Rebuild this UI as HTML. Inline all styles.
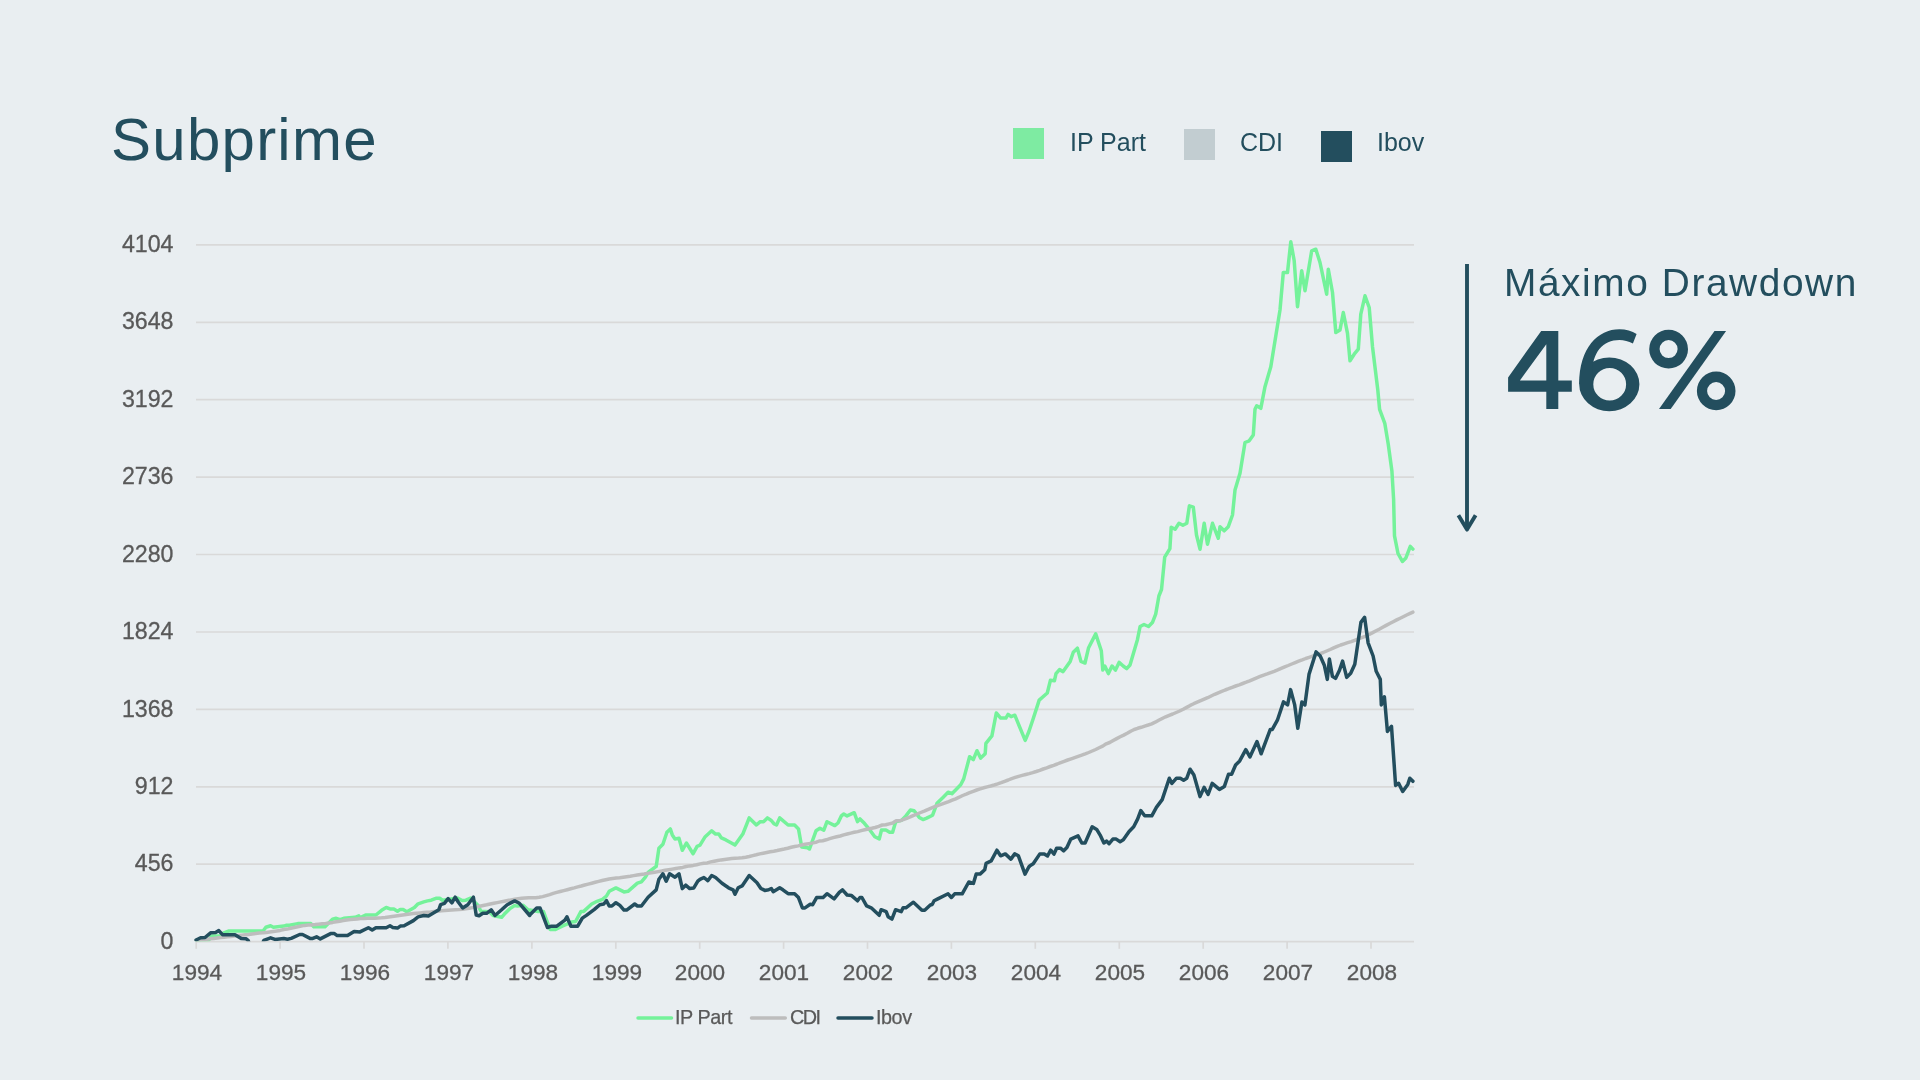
<!DOCTYPE html>
<html><head><meta charset="utf-8">
<style>
html,body{margin:0;padding:0;}
body{width:1920px;height:1080px;background:#E9EEF1;position:relative;overflow:hidden;font-family:"Liberation Sans",sans-serif;}
.title{position:absolute;left:110.5px;top:100px;font-size:60px;color:#234E5E;letter-spacing:1.25px;line-height:80px;white-space:nowrap;}
.lg{position:absolute;font-size:25px;color:#234E5E;line-height:30px;white-space:nowrap;}
.sq{position:absolute;width:31px;height:31px;}
.yl{position:absolute;left:60px;width:113.5px;text-align:right;font-size:23.2px;color:#595959;-webkit-text-stroke:0.3px #595959;line-height:28px;}
.xl{position:absolute;top:959px;-webkit-text-stroke:0.3px #595959;width:80px;text-align:center;font-size:22.6px;color:#595959;line-height:28px;}
.bl{position:absolute;top:1005px;-webkit-text-stroke:0.25px #595959;font-size:19.8px;letter-spacing:-0.45px;color:#595959;line-height:24px;white-space:nowrap;}
.dd{position:absolute;left:1504px;top:258.6px;font-size:38.8px;color:#234E5E;line-height:48px;letter-spacing:1.6px;white-space:nowrap;}
.pc{position:absolute;left:1506px;top:310px;font-size:115px;color:#234E5E;line-height:120px;-webkit-text-stroke:1.5px #234E5E;white-space:nowrap;}
svg{position:absolute;left:0;top:0;}
.title,.lg,.yl,.xl,.bl,.dd{-webkit-font-smoothing:antialiased;will-change:transform;}
</style></head><body>
<div class="title">Subprime</div>
<div class="sq" style="left:1013.2px;top:128px;width:31.3px;height:31.3px;background:#7EEBA2"></div>
<div class="lg" style="left:1070px;top:127px">IP Part</div>
<div class="sq" style="left:1184px;top:129px;background:#C2CDD1"></div>
<div class="lg" style="left:1240px;top:127px">CDI</div>
<div class="sq" style="left:1321px;top:131px;background:#234E5E"></div>
<div class="lg" style="left:1377px;top:127px">Ibov</div>
<div class="yl" style="top:926.7px">0</div><div class="yl" style="top:849.3px">456</div><div class="yl" style="top:771.9px">912</div><div class="yl" style="top:694.5px">1368</div><div class="yl" style="top:617.1px">1824</div><div class="yl" style="top:539.6px">2280</div><div class="yl" style="top:462.2px">2736</div><div class="yl" style="top:384.8px">3192</div><div class="yl" style="top:307.4px">3648</div><div class="yl" style="top:230.0px">4104</div>
<div class="xl" style="left:156.9px">1994</div><div class="xl" style="left:240.8px">1995</div><div class="xl" style="left:324.7px">1996</div><div class="xl" style="left:408.6px">1997</div><div class="xl" style="left:492.6px">1998</div><div class="xl" style="left:576.5px">1999</div><div class="xl" style="left:660.4px">2000</div><div class="xl" style="left:744.3px">2001</div><div class="xl" style="left:828.2px">2002</div><div class="xl" style="left:912.1px">2003</div><div class="xl" style="left:996.0px">2004</div><div class="xl" style="left:1080.0px">2005</div><div class="xl" style="left:1163.9px">2006</div><div class="xl" style="left:1247.8px">2007</div><div class="xl" style="left:1331.7px">2008</div>
<svg width="1920" height="1080" viewBox="0 0 1920 1080">
<defs><clipPath id="c"><rect x="150" y="150" width="1300" height="791.3"/></clipPath></defs>
<g stroke="#D9D9D9" stroke-width="1.7" fill="none"><line x1="196" x2="1414" y1="941.6" y2="941.6" /><line x1="196" x2="1414" y1="864.2" y2="864.2" /><line x1="196" x2="1414" y1="786.8" y2="786.8" /><line x1="196" x2="1414" y1="709.4" y2="709.4" /><line x1="196" x2="1414" y1="632.0" y2="632.0" /><line x1="196" x2="1414" y1="554.5" y2="554.5" /><line x1="196" x2="1414" y1="477.1" y2="477.1" /><line x1="196" x2="1414" y1="399.7" y2="399.7" /><line x1="196" x2="1414" y1="322.3" y2="322.3" /><line x1="196" x2="1414" y1="244.9" y2="244.9" /><line x1="196.2" x2="196.2" y1="941.6" y2="948.8" /><line x1="280.1" x2="280.1" y1="941.6" y2="948.8" /><line x1="364.0" x2="364.0" y1="941.6" y2="948.8" /><line x1="447.9" x2="447.9" y1="941.6" y2="948.8" /><line x1="531.9" x2="531.9" y1="941.6" y2="948.8" /><line x1="615.8" x2="615.8" y1="941.6" y2="948.8" /><line x1="699.7" x2="699.7" y1="941.6" y2="948.8" /><line x1="783.6" x2="783.6" y1="941.6" y2="948.8" /><line x1="867.5" x2="867.5" y1="941.6" y2="948.8" /><line x1="951.4" x2="951.4" y1="941.6" y2="948.8" /><line x1="1035.3" x2="1035.3" y1="941.6" y2="948.8" /><line x1="1119.3" x2="1119.3" y1="941.6" y2="948.8" /><line x1="1203.2" x2="1203.2" y1="941.6" y2="948.8" /><line x1="1287.1" x2="1287.1" y1="941.6" y2="948.8" /><line x1="1371.0" x2="1371.0" y1="941.6" y2="948.8" /></g>
<g fill="none" stroke-width="3.5" stroke-linejoin="round" stroke-linecap="round" clip-path="url(#c)">
<path stroke="#74F29A" d="M196.4 940.3 L208.8 940.1 L211.6 936.1 L220.0 936.1 L223.8 932.8 L228.4 931.1 L263.1 931.1 L265.9 927.2 L270.6 925.8 L273.4 927.2 L283.8 926.1 L286.6 925.3 L289.4 925.3 L297.8 923.6 L310.9 923.6 L313.8 926.7 L325.0 926.7 L332.5 919.2 L336.2 918.3 L340.0 919.7 L343.8 918.3 L355.0 917.3 L358.8 915.9 L360.0 917.8 L365.6 915.0 L375.9 915.0 L381.6 910.3 L386.2 907.5 L390.0 908.9 L393.8 908.9 L397.5 911.2 L400.3 909.4 L403.1 909.4 L406.9 911.7 L414.4 907.5 L418.1 903.8 L423.8 901.9 L427.5 900.9 L431.2 900.2 L435.9 898.3 L439.7 898.3 L442.5 900.2 L448.1 899.5 L457.5 898.1 L462.2 900.5 L465.9 900.2 L470.6 898.1 L478.1 905.6 L480.9 911.2 L489.4 911.7 L493.1 915.5 L501.6 917.3 L504.4 914.1 L510.0 908.4 L514.7 905.6 L517.5 906.1 L523.1 905.2 L529.7 911.2 L530.0 910.1 L538.1 911.4 L543.4 911.4 L550.1 929.5 L555.5 929.5 L562.2 926.2 L571.6 922.1 L575.6 921.5 L581.0 911.4 L583.7 911.4 L591.7 904.0 L597.1 901.3 L602.5 899.3 L606.5 896.0 L609.2 891.3 L615.9 887.9 L624.0 891.9 L628.0 891.3 L637.4 883.2 L641.4 881.9 L645.4 877.2 L648.1 872.5 L656.2 866.4 L658.9 848.3 L662.9 844.3 L666.9 832.2 L670.3 828.9 L672.3 834.9 L675.0 838.9 L679.0 838.3 L682.3 850.3 L686.4 843.0 L693.1 853.7 L697.1 846.3 L700.0 845.1 L705.2 836.7 L711.7 830.8 L715.6 834.1 L718.8 834.1 L721.4 837.9 L725.9 839.9 L730.5 842.5 L735.0 845.1 L742.8 834.1 L749.2 817.9 L756.4 825.0 L760.3 821.7 L763.5 821.7 L767.4 817.9 L771.3 820.5 L773.9 823.7 L776.5 825.0 L779.7 817.9 L788.1 825.0 L794.6 825.0 L798.5 828.9 L801.7 847.0 L807.6 847.7 L809.5 849.0 L816.0 830.8 L819.9 828.2 L823.8 830.2 L827.0 821.7 L834.8 825.6 L838.0 823.0 L841.3 815.9 L843.8 814.0 L847.1 815.9 L854.2 812.7 L857.5 821.7 L860.0 818.9 L864.4 823.3 L870.4 830.7 L874.8 836.7 L879.3 838.9 L881.5 830.0 L885.9 830.0 L889.6 832.2 L892.6 832.2 L895.6 821.9 L901.5 820.4 L905.9 815.9 L910.4 810.0 L914.1 810.7 L919.3 817.4 L923.0 819.6 L926.7 818.1 L932.6 815.2 L937.0 803.3 L943.0 797.4 L948.1 792.2 L951.9 793.7 L960.7 784.8 L963.7 778.9 L969.6 756.7 L973.3 759.6 L977.0 750.7 L980.7 758.1 L985.2 753.7 L985.9 743.3 L991.9 735.9 L996.3 713.0 L1000.7 718.1 L1005.9 718.1 L1008.1 714.4 L1011.1 716.7 L1014.8 715.2 L1025.2 740.4 L1028.9 731.5 L1033.1 719.0 L1039.2 700.1 L1047.3 693.0 L1050.4 680.3 L1054.4 680.8 L1056.0 673.6 L1059.5 669.6 L1063.1 671.6 L1070.2 661.4 L1073.3 652.3 L1077.4 648.2 L1080.9 661.4 L1085.0 663.0 L1088.6 647.7 L1095.7 633.9 L1101.3 650.7 L1102.8 670.1 L1104.8 666.0 L1108.4 673.6 L1112.0 666.0 L1115.5 670.1 L1119.1 662.4 L1123.2 666.0 L1126.7 668.6 L1130.0 665.0 L1137.5 639.4 L1140.1 626.5 L1144.0 624.5 L1148.5 626.5 L1152.4 622.6 L1155.7 614.1 L1158.9 596.0 L1161.5 589.5 L1164.7 557.1 L1169.9 548.6 L1171.2 527.2 L1175.1 529.2 L1179.0 523.3 L1182.9 525.3 L1186.8 523.3 L1189.4 505.8 L1193.3 507.1 L1196.5 535.0 L1200.0 549.2 L1204.2 523.3 L1207.5 544.2 L1212.5 523.3 L1218.3 538.3 L1220.0 526.7 L1224.2 530.8 L1228.3 526.7 L1232.5 515.0 L1235.0 490.0 L1240.0 473.3 L1245.0 442.5 L1249.2 440.8 L1253.3 435.0 L1255.0 409.2 L1256.7 405.8 L1260.8 408.3 L1265.0 386.7 L1270.8 366.7 L1280.0 310.0 L1283.3 272.5 L1287.5 272.5 L1290.8 241.7 L1294.2 260.8 L1297.5 306.7 L1301.7 270.8 L1305.0 290.8 L1311.7 250.8 L1315.8 249.2 L1320.0 262.5 L1326.7 294.2 L1328.3 269.2 L1332.5 292.5 L1335.8 332.5 L1340.0 330.0 L1343.3 312.5 L1347.5 333.3 L1350.0 360.8 L1354.2 354.2 L1358.3 349.2 L1360.8 314.2 L1365.0 295.8 L1369.2 307.5 L1372.5 346.7 L1377.8 390.0 L1379.6 409.3 L1384.8 423.4 L1388.3 444.5 L1391.9 470.9 L1393.6 499.0 L1394.5 535.9 L1398.0 553.5 L1402.4 561.4 L1405.9 557.9 L1410.3 546.4 L1412.9 549.1"/>
<path stroke="#BDBDBD" d="M196.2 940.5 L199.7 940.0 L203.2 939.6 L206.7 939.2 L210.2 938.8 L213.7 938.4 L217.2 938.0 L220.7 937.6 L224.2 937.2 L227.7 936.8 L231.2 936.4 L234.7 936.0 L238.2 935.6 L241.7 935.2 L245.2 934.8 L248.7 934.4 L252.2 933.9 L255.7 933.4 L259.2 933.0 L262.7 932.8 L266.2 932.4 L269.7 931.9 L273.2 931.4 L276.7 930.9 L280.2 930.4 L283.7 929.5 L287.2 929.1 L290.7 928.3 L294.2 927.5 L297.7 926.7 L301.2 926.0 L304.7 925.4 L308.2 925.1 L311.7 924.9 L315.2 924.6 L318.7 924.2 L322.2 923.8 L325.7 923.4 L329.2 922.9 L332.7 922.4 L336.2 921.8 L339.7 921.2 L343.2 920.6 L346.7 920.1 L350.2 919.6 L353.7 919.2 L357.2 918.9 L360.7 918.6 L364.2 918.4 L367.7 918.3 L371.2 918.2 L374.7 918.2 L378.2 918.0 L381.7 917.8 L385.2 917.4 L388.7 916.9 L392.2 916.4 L395.7 915.9 L399.2 915.4 L402.7 914.9 L406.2 914.4 L409.7 914.0 L413.2 913.6 L416.7 913.2 L420.2 912.9 L423.7 912.6 L427.2 912.3 L430.7 912.0 L434.2 911.6 L437.7 911.2 L441.2 910.8 L444.7 910.5 L448.2 910.2 L451.7 910.0 L455.2 909.8 L458.7 909.6 L462.2 909.3 L465.7 908.8 L469.2 908.3 L472.7 907.6 L476.2 906.9 L479.7 906.2 L483.2 905.5 L486.7 904.8 L490.2 904.0 L493.7 903.3 L497.2 902.6 L500.7 901.9 L504.2 901.2 L507.7 900.5 L511.2 899.9 L514.7 899.3 L518.2 898.8 L521.7 898.3 L525.2 898.0 L528.7 897.8 L532.2 897.8 L535.7 897.7 L539.2 897.3 L542.7 896.6 L546.2 895.6 L549.7 894.6 L553.2 893.4 L556.7 892.4 L560.2 891.5 L563.7 890.6 L567.2 889.7 L570.7 888.8 L574.2 887.9 L577.7 886.9 L581.2 886.0 L584.7 885.0 L588.2 884.1 L591.7 883.2 L595.2 882.3 L598.7 881.4 L602.2 880.5 L605.7 879.7 L609.2 879.0 L612.7 878.5 L616.2 878.1 L619.7 877.7 L623.2 877.2 L626.7 876.7 L630.2 876.2 L633.7 875.6 L637.2 875.0 L640.7 874.5 L644.2 874.0 L647.7 873.4 L651.2 872.8 L654.7 872.2 L658.2 871.6 L661.7 871.0 L665.2 870.3 L668.7 869.7 L672.2 869.1 L675.7 868.5 L679.2 867.9 L682.7 867.4 L686.2 866.5 L689.7 865.9 L693.2 865.4 L696.7 864.7 L700.2 863.9 L703.7 863.2 L707.2 862.9 L710.7 861.9 L714.2 861.2 L717.7 860.5 L721.2 859.9 L724.7 859.4 L728.2 858.9 L731.7 858.5 L735.2 858.3 L738.7 858.1 L742.2 857.8 L745.7 857.2 L749.2 856.5 L752.7 855.6 L756.2 854.8 L759.7 853.9 L763.2 853.2 L766.7 852.5 L770.2 851.8 L773.7 851.2 L777.2 850.5 L780.7 849.7 L784.2 849.0 L787.7 848.2 L791.2 847.3 L794.7 846.5 L798.2 845.9 L801.7 845.0 L805.2 844.3 L808.7 843.7 L812.2 843.1 L815.7 842.4 L819.2 841.0 L822.7 840.7 L826.2 839.8 L829.7 838.7 L833.2 837.6 L836.7 836.7 L840.2 836.0 L843.7 834.9 L847.2 834.0 L850.7 833.1 L854.2 832.3 L857.7 831.6 L861.2 830.6 L864.7 829.8 L868.2 829.0 L871.7 828.3 L875.2 827.5 L878.7 826.3 L882.2 825.0 L885.7 824.8 L889.2 823.9 L892.7 823.0 L896.2 820.7 L899.7 820.8 L903.2 819.6 L906.7 818.3 L910.2 816.9 L913.7 815.4 L917.2 814.0 L920.7 812.5 L924.2 811.1 L927.7 809.6 L931.2 808.1 L934.7 806.7 L938.2 805.4 L941.7 804.2 L945.2 802.9 L948.7 801.6 L952.2 800.2 L955.7 798.8 L959.2 797.2 L962.7 795.5 L966.2 794.1 L969.7 792.6 L973.2 791.3 L976.7 790.0 L980.2 788.9 L983.7 787.8 L987.2 786.9 L990.7 786.0 L994.2 785.0 L997.7 783.9 L1001.2 782.7 L1004.7 781.3 L1008.2 780.0 L1011.7 778.6 L1015.2 777.4 L1018.7 776.4 L1022.2 775.4 L1025.7 774.5 L1029.2 773.6 L1032.7 772.6 L1036.2 771.5 L1039.7 770.3 L1043.2 769.0 L1046.7 767.8 L1050.2 766.5 L1053.7 765.3 L1057.2 764.0 L1060.7 762.6 L1064.2 761.3 L1067.7 760.0 L1071.2 758.8 L1074.7 757.6 L1078.2 756.4 L1081.7 755.2 L1085.2 753.9 L1088.7 752.5 L1092.2 751.0 L1095.7 749.5 L1099.2 747.8 L1102.7 746.1 L1106.2 743.8 L1109.7 742.5 L1113.2 740.5 L1116.7 738.6 L1120.2 736.8 L1123.7 735.1 L1127.2 733.3 L1130.7 731.2 L1134.2 729.5 L1137.7 728.3 L1141.2 727.3 L1144.7 726.1 L1148.2 725.0 L1151.7 723.8 L1155.2 722.2 L1158.7 720.3 L1162.2 718.5 L1165.7 716.8 L1169.2 715.3 L1172.7 714.0 L1176.2 712.5 L1179.7 711.0 L1183.2 709.3 L1186.7 707.4 L1190.2 705.4 L1193.7 703.7 L1197.2 702.2 L1200.7 700.7 L1204.2 699.2 L1207.7 697.7 L1211.2 696.0 L1214.7 694.3 L1218.2 692.8 L1221.7 691.4 L1225.2 690.0 L1228.7 688.7 L1232.2 687.3 L1235.7 686.0 L1239.2 684.8 L1242.7 683.5 L1246.2 682.2 L1249.7 680.8 L1253.2 679.3 L1256.7 677.8 L1260.2 676.4 L1263.7 675.1 L1267.2 673.9 L1270.7 672.6 L1274.2 671.3 L1277.7 669.9 L1281.2 668.4 L1284.7 666.9 L1288.2 665.5 L1291.7 664.0 L1295.2 662.6 L1298.7 661.2 L1302.2 659.9 L1305.7 658.5 L1309.2 657.3 L1312.7 656.1 L1316.2 654.9 L1319.7 653.8 L1323.2 652.5 L1326.7 651.0 L1330.2 649.5 L1333.7 647.9 L1337.2 646.4 L1340.7 645.0 L1344.2 643.8 L1347.7 642.7 L1351.2 641.6 L1354.7 640.3 L1358.2 639.0 L1361.7 637.6 L1365.2 636.3 L1368.7 634.7 L1372.2 632.9 L1375.7 631.0 L1379.2 629.2 L1382.7 627.3 L1386.2 625.4 L1389.7 623.5 L1393.2 621.7 L1396.7 619.9 L1400.2 618.2 L1403.7 616.5 L1407.2 614.8 L1410.7 613.1 L1412.9 612.1"/>
<path stroke="#234E5E" d="M196.1 940.0 L200.6 937.8 L205.0 937.5 L210.6 932.8 L215.6 932.5 L218.8 930.6 L222.5 934.7 L235.0 934.7 L241.2 938.4 L246.2 938.8 L248.1 940.3 L250.0 945.0 L261.9 945.0 L263.8 940.3 L270.6 937.8 L275.0 939.4 L283.8 938.6 L287.5 939.2 L291.2 938.4 L299.7 934.5 L302.5 934.5 L310.0 938.4 L312.8 938.4 L316.6 936.8 L320.3 938.9 L330.6 933.6 L334.4 933.6 L337.2 935.6 L347.5 935.6 L354.1 931.4 L360.0 931.9 L368.4 927.7 L372.2 930.0 L375.9 927.7 L386.2 927.7 L390.0 925.8 L392.8 927.4 L397.5 928.1 L400.3 926.1 L404.1 925.8 L413.4 920.6 L418.1 916.9 L423.8 915.5 L428.4 915.9 L438.8 909.8 L440.6 904.7 L444.4 903.3 L448.1 898.6 L451.9 902.8 L455.2 897.2 L458.4 902.3 L462.7 908.0 L467.8 904.7 L473.4 897.2 L476.2 915.0 L479.1 915.8 L482.8 913.3 L486.6 913.3 L491.2 909.8 L495.0 915.5 L501.6 909.8 L507.2 904.7 L514.7 900.9 L519.4 903.3 L529.7 915.5 L530.0 914.8 L536.7 908.1 L540.1 908.1 L547.4 927.5 L551.5 926.2 L556.8 926.2 L564.9 920.1 L566.9 916.8 L570.9 926.2 L577.7 926.2 L582.3 918.1 L586.4 915.4 L594.4 909.4 L599.8 904.7 L603.8 904.0 L606.5 900.7 L609.2 906.0 L611.9 906.0 L615.9 902.7 L619.9 905.4 L624.0 910.1 L626.6 910.1 L634.7 904.0 L637.4 906.0 L641.4 906.0 L648.1 897.3 L656.2 889.9 L658.9 879.2 L662.9 873.8 L666.2 881.2 L669.6 873.8 L675.0 877.2 L679.0 873.8 L682.3 888.6 L685.7 885.2 L689.7 888.6 L693.8 887.9 L697.8 881.2 L700.0 879.4 L703.9 877.5 L707.8 880.7 L711.7 875.5 L715.6 877.5 L722.0 883.3 L728.5 887.8 L733.0 889.8 L735.0 894.3 L738.2 887.8 L742.1 885.9 L749.2 875.5 L757.0 882.7 L760.9 888.5 L764.8 890.4 L768.7 889.8 L771.3 888.5 L773.2 891.7 L779.7 887.8 L782.9 889.8 L788.1 893.7 L794.6 893.7 L798.5 897.6 L802.4 907.9 L805.0 907.9 L810.2 904.3 L812.7 904.7 L816.6 897.6 L823.1 897.6 L827.0 893.7 L834.1 898.9 L839.3 892.4 L842.5 889.8 L847.1 895.0 L851.6 895.6 L857.5 900.8 L860.0 897.5 L861.9 897.5 L866.6 905.9 L871.2 907.8 L879.2 915.3 L881.1 909.7 L886.2 911.6 L888.1 916.7 L891.9 919.1 L895.6 909.7 L901.2 911.6 L903.1 907.8 L905.9 907.8 L913.4 902.2 L921.9 910.2 L924.7 910.2 L930.3 905.0 L932.2 904.5 L934.1 900.8 L937.8 898.9 L948.1 893.8 L951.4 897.5 L954.7 893.8 L962.2 893.8 L968.8 882.0 L973.4 883.4 L976.2 874.1 L980.0 874.1 L984.7 869.8 L986.1 863.3 L991.2 860.9 L996.9 850.2 L1000.6 855.8 L1005.3 853.9 L1010.9 859.1 L1014.7 853.9 L1018.4 855.8 L1025.0 874.1 L1028.8 867.0 L1030.0 865.7 L1033.2 863.8 L1039.7 854.1 L1044.3 854.1 L1047.5 856.0 L1050.7 850.2 L1054.0 854.1 L1056.6 848.2 L1060.5 848.2 L1063.7 850.8 L1066.9 847.6 L1070.8 839.1 L1078.0 835.9 L1081.8 843.0 L1085.1 843.0 L1092.2 826.8 L1096.7 829.4 L1100.6 835.9 L1103.9 843.0 L1106.5 841.1 L1109.1 843.7 L1112.9 839.1 L1116.2 839.1 L1120.1 841.7 L1123.3 839.8 L1129.1 831.4 L1133.7 826.8 L1137.6 819.1 L1140.8 810.6 L1144.7 815.8 L1151.8 815.8 L1156.4 807.4 L1162.2 799.6 L1169.3 778.2 L1171.9 783.4 L1176.5 778.2 L1180.3 778.2 L1183.6 780.2 L1186.8 778.2 L1190.1 769.2 L1193.9 775.0 L1200.0 796.6 L1204.1 787.4 L1208.1 794.5 L1212.2 783.3 L1219.4 789.4 L1224.4 786.4 L1228.5 774.2 L1231.6 774.2 L1235.6 765.0 L1239.7 760.9 L1245.8 749.7 L1249.9 756.9 L1257.0 741.6 L1261.1 753.8 L1270.3 729.4 L1272.3 729.4 L1277.4 720.2 L1283.5 701.9 L1287.6 704.9 L1290.6 689.6 L1294.7 704.9 L1297.8 728.3 L1301.9 701.9 L1304.9 704.9 L1309.0 674.4 L1316.1 651.9 L1320.2 656.0 L1324.3 665.2 L1327.3 679.4 L1329.4 659.1 L1332.4 676.4 L1335.5 678.4 L1339.5 670.3 L1342.6 661.1 L1346.7 677.4 L1350.7 673.3 L1354.8 664.2 L1360.9 622.4 L1364.6 617.3 L1368.1 642.8 L1373.1 656.0 L1376.2 671.3 L1380.3 679.4 L1381.3 704.9 L1384.4 696.8 L1387.4 731.4 L1391.5 726.3 L1395.6 785.4 L1398.6 783.3 L1402.7 791.5 L1407.8 784.4 L1409.8 778.2 L1412.9 781.3"/>
</g>
<g stroke-width="3.5" stroke-linecap="round">
<line x1="638" x2="671.5" y1="1018.1" y2="1018.1" stroke="#74F29A"/>
<line x1="751.5" x2="785.3" y1="1018.1" y2="1018.1" stroke="#BDBDBD"/>
<line x1="838" x2="872" y1="1018.1" y2="1018.1" stroke="#234E5E"/>
</g>
<g stroke="#234E5E" stroke-width="3.9" fill="none" stroke-linecap="butt">
<line x1="1467" x2="1467" y1="264.1" y2="528"/>
<polyline points="1458.4,515.3 1467,529.6 1475.6,515.3" stroke-linejoin="round"/>
</g>
</svg>
<div class="bl" style="left:675px">IP Part</div>
<div class="bl" style="left:790px;letter-spacing:-1.5px">CDI</div>
<div class="bl" style="left:876px">Ibov</div>
<div class="dd">Máximo Drawdown</div>
<svg width="1920" height="1080" viewBox="0 0 1920 1080" style="position:absolute;left:0;top:0">
<g fill="#234E5E" fill-rule="evenodd">
<path d="M1541.2 330.9 L1558.3 330.9 L1558.3 380.6 L1571.8 380.6 L1571.8 391.8 L1558.3 391.8 L1558.3 409.1 L1546.3 409.1 L1546.3 391.8 L1508.1 391.8 L1508.1 377.4 Z M1546.3 344.3 L1519.9 380.4 L1546.3 380.4 Z"/>
<path d="M1639.4 384.3 A30.1 26.9 0 1 1 1579.2 384.3 A30.1 26.9 0 1 1 1639.4 384.3 Z M1626.1 384.3 A16.4 16.3 0 1 0 1593.3 384.3 A16.4 16.3 0 1 0 1626.1 384.3 Z"/>
<path d="M1579.2 384 C1579.2 348 1598 329.3 1619.4 329.3 C1626 329.3 1632 331 1636.6 333.9 L1632.9 343.6 C1628.5 341 1624 339.9 1619.4 339.9 C1603 339.9 1592.1 352 1592.1 374 L1592.1 384 Z"/>
<path d="M1688.0 349.2 A19.4 19.4 0 1 1 1649.2 349.2 A19.4 19.4 0 1 1 1688.0 349.2 Z M1677.6 349.1 A9 9 0 1 0 1659.6 349.1 A9 9 0 1 0 1677.6 349.1 Z"/>
<path d="M1735.5 390.9 A19.3 19.3 0 1 1 1696.9 390.9 A19.3 19.3 0 1 1 1735.5 390.9 Z M1725.1 391 A9 9 0 1 0 1707.1 391 A9 9 0 1 0 1725.1 391 Z"/>
<path d="M1714.5 330.9 L1726.1 330.9 L1670.7 409.1 L1659.0 409.1 Z"/>
</g></svg>
</body></html>
